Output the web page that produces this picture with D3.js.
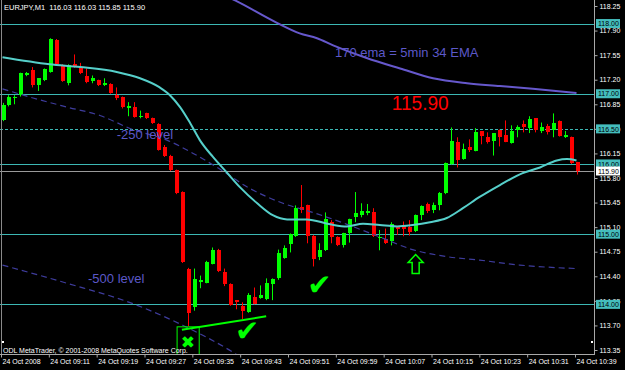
<!DOCTYPE html>
<html><head><meta charset="utf-8">
<script src="https://cdn.jsdelivr.net/npm/d3@7"></script>
<style>
body{margin:0;background:#000;overflow:hidden}
svg{display:block;font-family:"Liberation Sans",Arial,sans-serif}
</style>
</head><body>
<svg id="c" width="625" height="370"></svg>
<script>
// ---------- data ----------
const headerText = "EURJPY,M1  116.03 116.03 115.85 115.90";
const copyrightText = "ODL MetaTrader, © 2001-2008 MetaQuotes Software Corp.";

const barOpen = [116.62,116.84,116.95,116.98,117.27,117.34,117.12,117.19,117.31,117.76,
117.41,117.15,117.42,117.38,117.25,117.18,117.19,117.12,117.14,116.98,
116.95,116.80,116.81,116.67,116.72,116.65,116.57,116.24,116.12,115.91,
115.60,114.50,113.96,114.32,114.31,114.58,114.77,114.46,114.29,114.06,
113.97,113.89,114.10,114.09,114.07,114.29,114.37,114.66,114.86,114.97,
115.38,115.41,114.98,114.67,114.77,115.18,114.96,114.84,115.01,115.24,
115.27,115.30,115.31,114.95,114.93,114.90,115.11,115.11,115.10,115.04,
115.28,115.43,115.35,115.41,115.58,116.00,116.31,116.07,116.24,116.18,
116.47,116.38,116.32,116.49,116.41,116.30,116.49,116.57,116.51,116.65,
116.47,116.54,116.48,116.61,116.38,116.38,116.03];
const barHigh = [116.87,116.98,116.98,117.30,117.31,117.38,117.22,117.36,117.79,117.78,
117.42,117.42,117.56,117.44,117.36,117.26,117.20,117.22,117.15,117.09,
116.96,116.88,116.88,116.76,116.73,116.66,116.58,116.27,116.13,115.92,
115.61,114.52,114.51,114.41,114.62,114.81,114.79,114.51,114.30,114.06,
114.03,114.16,114.24,114.27,114.37,114.37,114.78,114.84,115.01,115.41,
115.70,115.42,114.99,114.87,115.31,115.20,114.97,115.02,115.22,115.60,
115.44,115.43,115.37,115.06,115.08,115.17,115.11,115.18,115.20,115.28,
115.41,115.45,115.45,115.60,116.02,116.52,116.38,116.29,116.35,116.51,
116.47,116.45,116.44,116.49,116.62,116.55,116.55,116.62,116.68,116.65,
116.59,116.57,116.72,116.62,116.47,116.39,116.03];
const barLow = [116.61,116.82,116.85,116.96,117.25,117.09,117.04,117.18,117.30,117.41,
117.17,117.12,117.37,117.28,117.15,117.15,117.11,117.11,117.00,116.91,
116.79,116.68,116.66,116.65,116.64,116.57,116.19,116.10,115.90,115.57,
114.59,113.69,113.91,114.23,114.30,114.57,114.46,114.26,113.98,113.93,
113.79,113.88,114.00,114.08,114.06,114.06,114.35,114.65,114.74,114.96,
115.30,114.87,114.54,114.63,114.76,114.87,114.83,114.81,114.88,115.17,
115.24,115.27,114.96,114.77,114.86,114.84,114.99,114.97,114.98,115.03,
115.20,115.30,115.30,115.34,115.57,115.99,115.95,116.06,116.17,116.18,
116.28,116.29,116.12,116.25,116.31,116.29,116.38,116.45,116.44,116.45,
116.44,116.42,116.38,116.39,116.37,116.00,115.85];
const barClose = [116.84,116.95,116.96,117.29,117.30,117.12,117.22,117.35,117.78,117.42,
117.18,117.41,117.38,117.29,117.17,117.22,117.12,117.15,117.01,116.94,
116.81,116.82,116.67,116.69,116.65,116.58,116.20,116.11,115.91,115.58,
114.60,113.87,114.36,114.34,114.60,114.78,114.47,114.29,113.99,114.04,
113.91,114.13,114.01,114.13,114.31,114.36,114.73,114.80,115.00,115.37,
115.34,114.98,114.64,114.78,115.21,114.96,114.84,115.01,115.21,115.30,
115.33,115.33,114.98,114.96,114.88,115.15,115.08,115.08,115.03,115.28,
115.40,115.33,115.41,115.58,116.01,116.32,116.05,116.22,116.20,116.45,
116.40,116.31,116.44,116.38,116.31,116.47,116.52,116.52,116.64,116.48,
116.52,116.45,116.59,116.40,116.41,116.01,115.90];

// cyan fast EMA (bar index, price)
const emaFastBar = [0,7.9,13,19.1,23,26.3,28,29.7,31.4,33,35.2,37.5,39.7,42.6,45.2,47.6,50.9,54.8,57.6,60.3,63.1,66,68.6,71.5,74.3,77,79.8,83.2,87,89.9,92.7,94.4,96];
const emaFastVal = [117.52,117.42,117.38,117.31,117.22,117.09,116.98,116.81,116.58,116.34,116.10,115.88,115.67,115.44,115.27,115.21,115.21,115.14,115.11,115.15,115.13,115.11,115.13,115.17,115.23,115.37,115.53,115.70,115.87,115.95,116.05,116.07,116.05];

// 170 EMA (solid blue)
const ema170Bar = [36.4,38.9,45.9,49.7,52.6,55.3,60.9,66.5,72,77.7,83.2,88.7,96];
const ema170Val = [118.43,118.33,118.01,117.86,117.79,117.69,117.51,117.36,117.22,117.15,117.11,117.07,117.01];

// -250 level (dashed)
const lvl250Bar = [0,5.1,10.8,16.3,21.8,27.5,31.9,35.9,41.4,46.9,51.9,57.6,63.1,68.6,74.3,79.8,86.5,96];
const lvl250Val = [117.07,116.94,116.81,116.69,116.49,116.34,116.15,115.95,115.65,115.44,115.31,115.14,114.96,114.78,114.68,114.63,114.56,114.51];

// -500 level (dashed)
const lvl500Bar = [0,10.8,21.8,30.2,38.5,41.4];
const lvl500Val = [114.56,114.30,114.01,113.70,113.32,113.16];

const timeTickBars = [0,8,16,24,32,40,48,56,64,72,80,88,96];
const timeTickLabels = ["24 Oct 2008","24 Oct 09:11","24 Oct 09:19","24 Oct 09:27","24 Oct 09:35","24 Oct 09:43","24 Oct 09:51","24 Oct 09:59","24 Oct 10:07","24 Oct 10:15","24 Oct 10:23","24 Oct 10:31","24 Oct 10:39"];
const priceTickLabels = ["113.35","113.70","114.05","114.40","114.75","115.10","115.45","115.80","116.15","116.50","116.85","117.20","117.55","117.90","118.25"];
const solidLevels = [118.00,117.00,116.00,115.00,114.00];
const dashedLevels = [116.50];
const bidPrice = 115.90;

// ---------- drawing ----------
const svg = d3.select("#c");
const W = 625, H = 370, plotRight = 594, plotBottom = 354;
const x = d3.scaleLinear().domain([0,96]).range([2.5,576.5]);
const y = d3.scaleLinear().domain([113.35,118.25]).range([350,6]);

svg.append("rect").attr("width",W).attr("height",H).attr("fill","#000");
svg.append("defs").append("clipPath").attr("id","plot")
  .append("rect").attr("x",0).attr("y",0).attr("width",plotRight).attr("height",plotBottom);
const g = svg.append("g").attr("clip-path","url(#plot)");

const teal = "#3cb8b4";
// horizontal levels
g.selectAll("line.lvl").data(solidLevels).join("line")
  .attr("x1",0).attr("x2",plotRight)
  .attr("y1",d=>Math.round(y(d))+0.5).attr("y2",d=>Math.round(y(d))+0.5)
  .attr("stroke",teal).attr("stroke-width",1);
g.selectAll("line.dlvl").data(dashedLevels).join("line")
  .attr("x1",0).attr("x2",plotRight)
  .attr("y1",d=>Math.round(y(d))+0.5).attr("y2",d=>Math.round(y(d))+0.5)
  .attr("stroke",teal).attr("stroke-width",1).attr("stroke-dasharray","3,2");
g.append("line").attr("x1",0).attr("x2",plotRight)
  .attr("y1",Math.round(y(bidPrice))+0.5).attr("y2",Math.round(y(bidPrice))+0.5)
  .attr("stroke","#9a9a9a").attr("stroke-width",1);

// candles
const bars = d3.range(barOpen.length).map(i=>({i,o:barOpen[i],h:barHigh[i],l:barLow[i],c:barClose[i]}));
const col = d=> d.c>=d.o ? "#00ff00" : "#ff0000";
g.selectAll("line.wick").data(bars).join("line")
  .attr("x1",d=>Math.round(x(d.i))+0.5).attr("x2",d=>Math.round(x(d.i))+0.5)
  .attr("y1",d=>y(d.h)).attr("y2",d=>y(d.l))
  .attr("stroke",col).attr("stroke-width",1);
g.selectAll("rect.body").data(bars).join("rect")
  .attr("x",d=>Math.round(x(d.i))-1.5).attr("width",4)
  .attr("y",d=>y(Math.max(d.o,d.c)))
  .attr("height",d=>Math.max(1.5,Math.abs(y(d.o)-y(d.c))))
  .attr("fill",col).attr("shape-rendering","crispEdges");

// indicator lines
const mk = (bs,vs)=>bs.map((b,k)=>[b,vs[k]]);
const line = d3.line().x(d=>x(d[0])).y(d=>y(d[1])).curve(d3.curveMonotoneX);
g.append("path").attr("d",line(mk(lvl250Bar,lvl250Val))).attr("fill","none")
  .attr("stroke","#3e3c9c").attr("stroke-width",1.2).attr("stroke-dasharray","6,4");
g.append("path").attr("d",line(mk(lvl500Bar,lvl500Val))).attr("fill","none")
  .attr("stroke","#3e3c9c").attr("stroke-width",1.2).attr("stroke-dasharray","6,4");
g.append("path").attr("d",line(mk(ema170Bar,ema170Val))).attr("fill","none")
  .attr("stroke","#6658cc").attr("stroke-width",2);
g.append("path").attr("d",line(mk(emaFastBar,emaFastVal))).attr("fill","none")
  .attr("stroke","#56cfca").attr("stroke-width",2);

// annotations (placed in data coordinates)
const lab = "#5c58c8";
g.append("text").attr("x",x(55.6)).attr("y",y(117.52)).attr("fill",lab)
  .attr("font-size",13).text("170 ema = 5min 34 EMA");
g.append("text").attr("x",x(19.1)).attr("y",y(116.35)).attr("fill",lab)
  .attr("font-size",13).text("-250 level");
g.append("text").attr("x",x(14.3)).attr("y",y(114.31)).attr("fill",lab)
  .attr("font-size",13).text("-500 level");
g.append("text").attr("x",x(65.1)).attr("y",y(116.77)).attr("fill","#ff0000")
  .attr("font-size",20).attr("textLength",57).attr("lengthAdjust","spacingAndGlyphs").text("115.90");

const lime = "#00ff00";
g.append("line").attr("x1",x(30)).attr("y1",y(113.64)).attr("x2",x(44.1)).attr("y2",y(113.83))
  .attr("stroke",lime).attr("stroke-width",2);
g.append("rect").attr("x",x(29.2)).attr("y",y(113.68)).attr("width",x(32.9)-x(29.2))
  .attr("height",plotBottom-y(113.68)+2).attr("fill","none").attr("stroke",lime).attr("stroke-width",1);
g.append("text").attr("x",x(31)).attr("y",y(113.46)).attr("fill",lime)
  .attr("font-family","DejaVu Sans").attr("font-size",17).attr("text-anchor","middle")
  .attr("dominant-baseline","central").text("✖");
[[40.9,113.62],[53,114.28]].forEach(p=>{
  g.append("text").attr("x",x(p[0])).attr("y",y(p[1])).attr("fill",lime)
    .attr("font-family","DejaVu Sans").attr("font-size",29).attr("text-anchor","middle")
    .attr("dominant-baseline","central").text("✔");
});
// hollow up arrow
const ax = x(69.1), aTop = y(114.71), aBot = y(114.44);
const aMid = aTop + 8;
g.append("path").attr("d",`M${ax},${aTop} L${ax-7.5},${aMid} L${ax-3.5},${aMid} L${ax-3.5},${aBot} L${ax+3.5},${aBot} L${ax+3.5},${aMid} L${ax+7.5},${aMid} Z`)
  .attr("fill","none").attr("stroke",lime).attr("stroke-width",1.5);

// frame lines
const gray = "#a8a8a8";
svg.append("line").attr("x1",1.5).attr("x2",1.5).attr("y1",0).attr("y2",plotBottom).attr("stroke","#8a8a8a");
svg.append("line").attr("x1",plotRight+0.5).attr("x2",plotRight+0.5).attr("y1",0).attr("y2",plotBottom+1).attr("stroke",gray);
svg.append("line").attr("x1",0).attr("x2",plotRight+1).attr("y1",plotBottom+0.5).attr("y2",plotBottom+0.5).attr("stroke",gray);

// header & copyright
svg.append("text").attr("x",4).attr("y",10).attr("fill","#fff").attr("font-size",7.5)
  .style("white-space","pre").text(headerText);
svg.append("text").attr("x",3).attr("y",353).attr("fill","#fff").attr("font-size",7)
  .text(copyrightText);
svg.append("rect").attr("x",2).attr("y",341).attr("width",2).attr("height",2).attr("fill","#fff");
svg.append("rect").attr("x",591).attr("y",341).attr("width",2).attr("height",2).attr("fill","#fff");

// right price axis
const yAxis = d3.axisRight(y).tickValues(priceTickLabels.map(Number)).tickSize(3).tickPadding(2)
  .tickFormat((d,i)=>priceTickLabels[i]);
const ya = svg.append("g").attr("transform",`translate(${plotRight+0.5},0)`).call(yAxis);
ya.select(".domain").remove();
ya.selectAll("line").attr("stroke",gray);
ya.selectAll("text").attr("fill","#fff").attr("font-size",7).attr("font-family","Liberation Sans, Arial, sans-serif");

// level boxes
const boxes = solidLevels.concat(dashedLevels);
svg.selectAll("rect.box").data(boxes).join("rect")
  .attr("x",596).attr("y",d=>y(d)-4.5).attr("width",24).attr("height",9).attr("fill","#44bdbd");
svg.selectAll("text.box").data(boxes).join("text")
  .attr("x",598).attr("y",d=>y(d)+2.7).attr("fill","#000").attr("font-size",7).text(d=>d.toFixed(2));
svg.append("rect").attr("x",596).attr("y",y(bidPrice)-4.5).attr("width",24).attr("height",9).attr("fill","#fff");
svg.append("text").attr("x",598).attr("y",y(bidPrice)+2.7).attr("fill","#000").attr("font-size",7).text(bidPrice.toFixed(2));

// bottom time axis
const xAxis = d3.axisBottom(x).tickValues(timeTickBars).tickSize(3).tickPadding(2)
  .tickFormat((d,i)=>timeTickLabels[i]);
const xa = svg.append("g").attr("transform",`translate(-1.5,${plotBottom+0.5})`).call(xAxis);
xa.select(".domain").remove();
xa.selectAll("line").attr("stroke",gray);
xa.selectAll("text").attr("fill","#fff").attr("font-size",7).attr("text-anchor","start")
  .attr("dx",1).attr("font-family","Liberation Sans, Arial, sans-serif");
</script>
</body></html>
